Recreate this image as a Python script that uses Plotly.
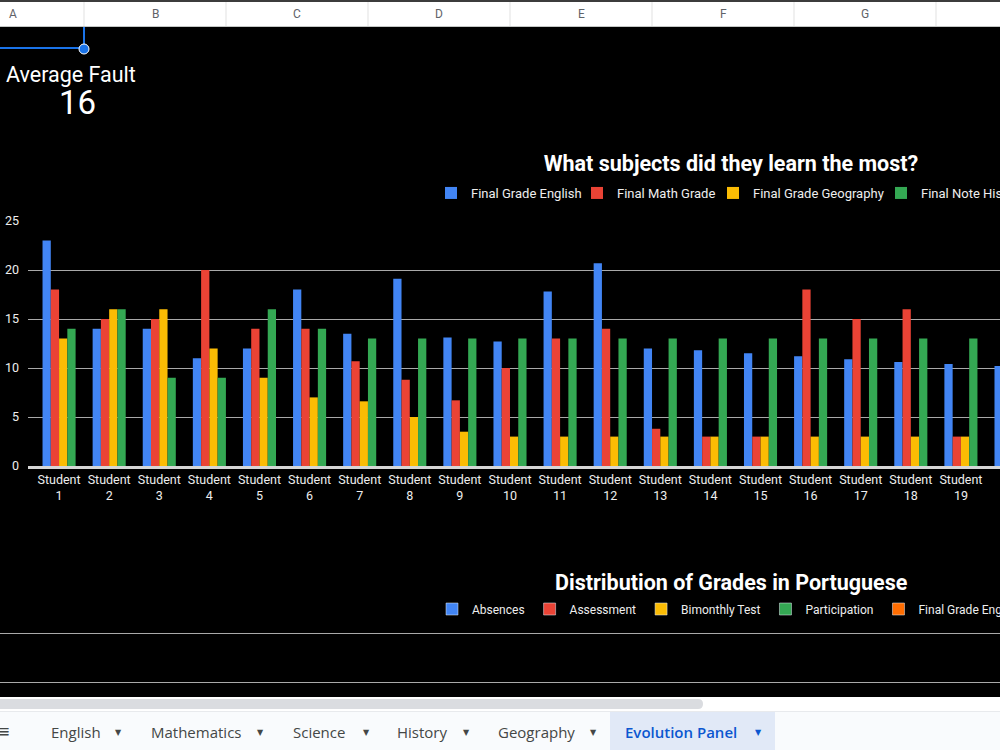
import plotly.graph_objects as go

# ---------------- data ----------------
students = ["Student 1", "Student 2", "Student 3", "Student 4", "Student 5",
            "Student 6", "Student 7", "Student 8", "Student 9", "Student 10",
            "Student 11", "Student 12", "Student 13", "Student 14", "Student 15",
            "Student 16", "Student 17", "Student 18", "Student 19", "Student 20"]
final_grade_english = [23, 14, 14, 11, 12, 18, 13.5, 19.1, 13.1, 12.7,
                       17.8, 20.7, 12, 11.8, 11.5, 11.2, 10.9, 10.6, 10.4, 10.2]
final_math_grade = [18, 15, 15, 20, 14, 14, 10.7, 8.8, 6.7, 10,
                    13, 14, 3.8, 3, 3, 18, 15, 16, 3, None]
final_grade_geography = [13, 16, 16, 12, 9, 7, 6.6, 5, 3.5, 3,
                         3, 3, 3, 3, 3, 3, 3, 3, 3, None]
final_note_history = [14, 16, 9, 9, 16, 14, 13, 13, 13, 13,
                      13, 13, 13, 13, 13, 13, 13, 13, 13, None]
series_names = ["Final Grade English", "Final Math Grade",
                "Final Grade Geography", "Final Note History"]
series_colors = ["#4285F4", "#EA4335", "#FBBC04", "#34A853"]
y_ticks = [0, 5, 10, 15, 20, 25]

# second chart (only its legend and two gridlines are visible in the view)
portuguese_series = ["Absences", "Assessment", "Bimonthly Test",
                     "Participation", "Final Grade English"]
portuguese_colors = ["#4285F4", "#EA4335", "#FBBC04", "#34A853", "#FF6D01"]
portuguese_visible_values = [None]

column_letters = ["A", "B", "C", "D", "E", "F", "G"]
sheet_tabs = ["English", "Mathematics", "Science", "History", "Geography",
              "Evolution Panel"]
active_tab = "Evolution Panel"
scorecard_label = "Average Fault"
scorecard_value = "16"
chart_title = "What subjects did they learn the most?"
chart2_title = "Distribution of Grades in Portuguese"

# ---------------- helpers ----------------
W, H = 1000, 750


def px(x):
    return x / W


def py(y):
    return 1 - y / H


FONT = "Roboto"
TXT = "#eeeeee"
GRID = "#a9a9a9"

fig = go.Figure()

# one legend box per entry of the first chart so every entry sits where it should
legend_ids = ["legend", "legend3", "legend4", "legend5"]
legend_square_x = [451, 597, 733, 901]

series_values = [final_grade_english, final_math_grade,
                 final_grade_geography, final_note_history]
for name, vals, col, lid in zip(series_names, series_values, series_colors,
                                legend_ids):
    fig.add_trace(go.Bar(x=students, y=vals, name=name, marker_color=col,
                         marker_line_width=0, legend=lid))

for name, col in zip(portuguese_series, portuguese_colors):
    fig.add_trace(go.Bar(x=[0] * len(portuguese_visible_values),
                         y=portuguese_visible_values, name=name,
                         marker_color=col, xaxis="x2", yaxis="y2",
                         legend="legend2"))

shapes = []
annotations = []


def text(t, x, y, size, color, family=FONT, xanchor="center", weight=None):
    f = dict(family=family, size=size, color=color)
    if weight:
        f["weight"] = weight
    annotations.append(dict(text=t, x=px(x), y=py(y), xref="paper", yref="paper",
                            xanchor=xanchor, yanchor="middle", showarrow=False,
                            font=f))


# column header bar
shapes.append(dict(type="rect", xref="paper", yref="paper", x0=0, x1=1,
                   y0=py(27), y1=py(0), fillcolor="#ffffff", line_width=0,
                   layer="above"))
shapes.append(dict(type="rect", xref="paper", yref="paper", x0=0, x1=1,
                   y0=py(2), y1=py(0), fillcolor="#3c3c3c", line_width=0,
                   layer="above"))
shapes.append(dict(type="line", xref="paper", yref="paper", x0=0, x1=1,
                   y0=py(26.5), y1=py(26.5), line=dict(color="#c4c7c5", width=1),
                   layer="above"))
col_w = 142
first_sep = 84
for i, letter in enumerate(column_letters):
    sep = first_sep + i * col_w
    center = sep - col_w / 2
    shapes.append(dict(type="line", xref="paper", yref="paper",
                       x0=px(sep), x1=px(sep), y0=py(26), y1=py(2),
                       line=dict(color="#e1e1e1", width=1), layer="above"))
    text(letter, center, 14, 12, "#5f6368")

# selected cell border
shapes.append(dict(type="line", xref="paper", yref="paper", x0=px(84), x1=px(84),
                   y0=py(48), y1=py(27), line=dict(color="#1a73e8", width=2),
                   layer="above"))
shapes.append(dict(type="line", xref="paper", yref="paper", x0=0, x1=px(84),
                   y0=py(48), y1=py(48), line=dict(color="#1a73e8", width=2),
                   layer="above"))
shapes.append(dict(type="circle", xref="paper", yref="paper", x0=px(79), x1=px(89),
                   y0=py(54), y1=py(44), fillcolor="#1a73e8",
                   line=dict(color="#ffffff", width=1), layer="above"))

# scorecard
text(scorecard_label, 71, 74, 21.5, "#ffffff")
text(scorecard_value, 77, 103, 33, "#ffffff")

# second chart title
text("<b>" + chart2_title + "</b>", 731, 582, 21.5, "#ffffff")

# scrollbar + tab bar
shapes.append(dict(type="rect", xref="paper", yref="paper", x0=0, x1=1,
                   y0=py(712), y1=py(697), fillcolor="#ffffff", line_width=0,
                   layer="above"))
shapes.append(dict(type="path", xref="paper", yref="paper",
                   path=f"M 0 {py(699)} L {px(698)} {py(699)} "
                        f"Q {px(703)} {py(699)} {px(703)} {py(704)} "
                        f"Q {px(703)} {py(709)} {px(698)} {py(709)} "
                        f"L 0 {py(709)} Z",
                   fillcolor="#dadce0", line_width=0, layer="above"))
shapes.append(dict(type="rect", xref="paper", yref="paper", x0=0, x1=1,
                   y0=0, y1=py(712), fillcolor="#f9fbfd", line_width=0,
                   layer="above"))
shapes.append(dict(type="line", xref="paper", yref="paper", x0=0, x1=1,
                   y0=py(711.5), y1=py(711.5), line=dict(color="#e8eaed", width=1),
                   layer="above"))
shapes.append(dict(type="rect", xref="paper", yref="paper", x0=px(610), x1=px(775),
                   y0=0, y1=py(712), fillcolor="#e1e9f7", line_width=0,
                   layer="above"))

text("≡", 3, 731, 17, "#444746", family="DejaVu Sans")
tab_left = [49, 149, 291, 395, 496, 623]
tab_caret = [118, 260, 366, 466, 593, 758]
for name, tl, tc in zip(sheet_tabs, tab_left, tab_caret):
    active = name == active_tab
    color = "#0b57d0" if active else "#444746"
    text(name, tl, 732, 15, color, family="Open Sans", xanchor="left",
         weight=600 if active else 400)
    text("▼", tc, 732, 8, color, family="DejaVu Sans")

legends = {}
for lid, sx in zip(legend_ids, legend_square_x):
    legends[lid] = dict(orientation="h", x=px(sx - 20), y=py(193),
                        xanchor="left", yanchor="middle",
                        font=dict(family=FONT, size=13, color=TXT),
                        bgcolor="rgba(0,0,0,0)")

fig.update_layout(
    width=W, height=H,
    margin=dict(l=0, r=0, t=0, b=0, autoexpand=False),
    paper_bgcolor="#000000", plot_bgcolor="#000000",
    barmode="group", bargap=0.34, bargroupgap=0,
    font=dict(family=FONT, color=TXT),
    title=dict(text="<b>" + chart_title + "</b>", x=px(731), y=py(163),
               xanchor="center", yanchor="middle",
               font=dict(family=FONT, size=21.5, color="#ffffff")),
    xaxis=dict(domain=[px(28), 1], range=[-0.62, 18.78], type="category",
               tickmode="array", tickvals=students,
               ticktext=[s.replace(" ", "<br>") for s in students],
               tickangle=0,
               tickfont=dict(family=FONT, size=12.5, color=TXT),
               showgrid=False, showline=True, linecolor="#d6d6d6", linewidth=3,
               ticks="", anchor="y"),
    yaxis=dict(domain=[py(466), py(221)], range=[0, 25], tickvals=y_ticks,
               showgrid=True, gridcolor=GRID, gridwidth=1, zeroline=False,
               tickfont=dict(family=FONT, size=12.5, color=TXT),
               ticklabelstandoff=8, anchor="x"),
    xaxis2=dict(domain=[0, 1], visible=False, anchor="y2", range=[-0.5, 0.5]),
    yaxis2=dict(domain=[py(731), py(623)], range=[0, 11.02], dtick=5,
                showgrid=True, gridcolor=GRID, gridwidth=1, zeroline=False,
                showticklabels=False, anchor="x2"),
    legend2=dict(orientation="h", x=px(432), y=py(609), xanchor="left",
                 yanchor="middle", font=dict(family=FONT, size=12, color=TXT),
                 bgcolor="rgba(0,0,0,0)"),
    shapes=shapes,
    annotations=annotations,
    showlegend=True,
    **legends,
)

fig.write_html("out.html")
